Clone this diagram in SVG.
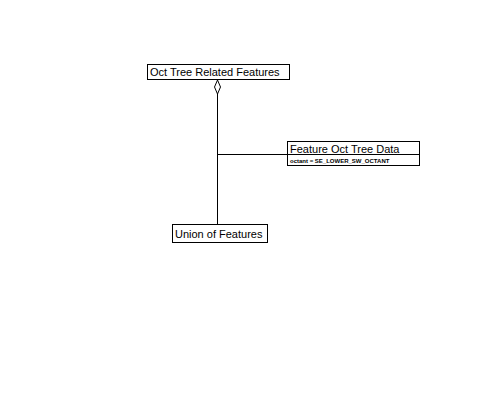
<svg xmlns="http://www.w3.org/2000/svg" width="500" height="400" viewBox="0 0 500 400">
<style>
.box{fill:#fff;stroke:#000;stroke-width:1}
.ln{stroke:#000;stroke-width:1;fill:none}
.t{font-family:"Liberation Sans",Arial,sans-serif;font-size:11px;fill:#000}
.s{font-family:"Liberation Sans",Arial,sans-serif;font-size:6px;font-weight:bold;fill:#000}
</style>
<rect width="500" height="400" fill="#fff"/>
<g id="connectors">
<line class="ln" x1="217.5" y1="94" x2="217.5" y2="224"/>
<line class="ln" x1="217.5" y1="154.5" x2="287" y2="154.5"/>
<polygon class="ln" points="217.5,80 220.5,87 217.5,94 214.5,87" fill="#fff"/>
</g>
<g id="oct-tree-related-features">
<rect class="box" x="147.5" y="64.5" width="142" height="15"/>
<text class="t" x="150" y="75.5">Oct Tree Related Features</text>
</g>
<g id="feature-oct-tree-data">
<rect class="box" x="287.5" y="141.5" width="132" height="24"/>
<line class="ln" x1="287.5" y1="154.5" x2="419.5" y2="154.5"/>
<text class="t" x="290" y="152.5">Feature Oct Tree Data</text>
<text class="s" x="290" y="162.5">octant = SE_LOWER_SW_OCTANT</text>
</g>
<g id="union-of-features">
<rect class="box" x="172.5" y="224.5" width="95" height="18"/>
<text class="t" x="175" y="237.5">Union of Features</text>
</g>
</svg>
